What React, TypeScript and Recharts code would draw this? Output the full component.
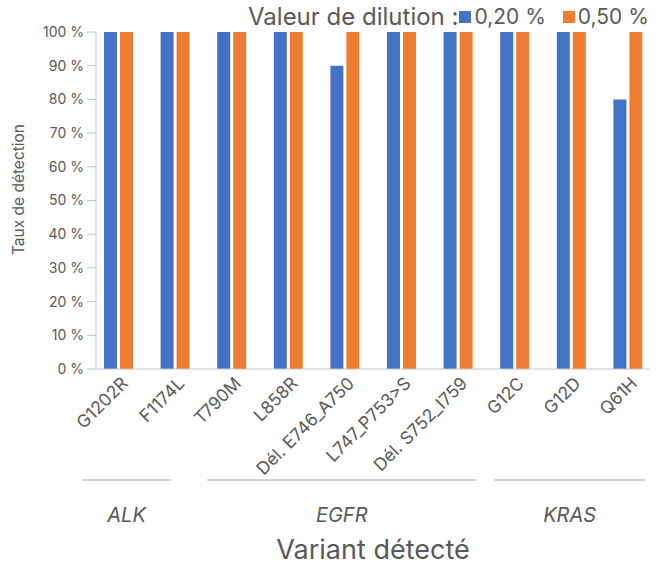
import React from 'react';
import { BarChart, Bar, XAxis, YAxis } from 'recharts';

const variants = ['G1202R', 'F1174L', 'T790M', 'L858R', 'Dél. E746_A750', 'L747_P753>S', 'Dél. S752_I759', 'G12C', 'G12D', 'Q61H'];
const dilution020 = [100, 100, 100, 100, 90, 100, 100, 100, 100, 80];
const dilution050 = [100, 100, 100, 100, 100, 100, 100, 100, 100, 100];
const yTicks = [0, 10, 20, 30, 40, 50, 60, 70, 80, 90, 100];
const groups = [
  { name: 'ALK', start: 0, end: 1 },
  { name: 'EGFR', start: 2, end: 6 },
  { name: 'KRAS', start: 7, end: 9 },
];
const seriesNames = ['0,20 %', '0,50 %'];
const legendTitle = 'Valeur de dilution :';
const yTitle = 'Taux de détection';
const xTitle = 'Variant détecté';

const data = variants.map((v, i) => ({ name: v, a: dilution020[i], b: dilution050[i] }));

const W = 667;
const H = 566;
const PLOT_LEFT = 96;
const PLOT_RIGHT = 650;
const PLOT_TOP = 32;
const PLOT_BOTTOM = 369;
const PAD = -6;
const BAND = (PLOT_RIGHT - PLOT_LEFT - 2 * PAD) / variants.length;
const TEXT = '#595959';
const LINE = '#C4C4C4';
const FONT = 'Inter, "Noto Sans", sans-serif';
const COLORS = ['#4472C4', '#ED7D31'];
// line start/end insets (px) for each group bracket, style only
const GROUP_INSETS = [[-8, -32], [4, -10], [8, -11]];

const XTick = (props: any) => {
  const { x, payload, index } = props;
  const tx = x + 6;
  const ty = PLOT_BOTTOM + 11;
  const gi = groups.findIndex((gr) => gr.start === index);
  let groupEl = null;
  if (gi >= 0) {
    const g = groups[gi];
    const x1 = x - BAND / 2 + GROUP_INSETS[gi][0];
    const x2 = x + (g.end - g.start) * BAND + BAND / 2 + GROUP_INSETS[gi][1];
    groupEl = (
      <g>
        <line x1={x1} x2={x2} y1={480} y2={480} stroke={LINE} strokeWidth={1.5} />
        <text x={(x1 + x2) / 2} y={522} textAnchor="middle" fontSize={20} fontStyle="italic" fill={TEXT} fontFamily={FONT}>
          {g.name}
        </text>
      </g>
    );
  }
  return (
    <g>
      <text
        x={tx}
        y={ty}
        transform={`rotate(-45, ${tx}, ${ty})`}
        textAnchor="end"
        dominantBaseline="central"
        fontSize={17.5}
        fill={TEXT}
        fontFamily={FONT}
      >
        {payload.value}
      </text>
      {groupEl}
    </g>
  );
};

export default function App() {
  return (
    <div style={{ position: 'absolute', left: 0, top: 0, width: W, height: H, background: '#fff' }}>
      <BarChart
        width={W}
        height={H}
        data={data}
        margin={{ top: PLOT_TOP, right: W - PLOT_RIGHT, left: 0, bottom: 0 }}
        barSize={13}
        barGap={3}
        style={{ fontFamily: FONT }}
      >
        <XAxis
          dataKey="name"
          type="category"
          height={H - PLOT_BOTTOM}
          padding={{ left: PAD, right: PAD }}
          interval={0}
          tickLine={false}
          axisLine={{ stroke: LINE }}
          tick={<XTick />}
          label={{ value: xTitle, position: 'insideBottom', offset: 7, fontSize: 27, fill: TEXT, fontFamily: FONT, dx: 0 }}
        />
        <XAxis xAxisId="top" orientation="top" dataKey="name" height={0} tick={false} tickLine={false} axisLine={{ stroke: LINE }} />
        <YAxis
          width={PLOT_LEFT}
          domain={[0, 100]}
          ticks={yTicks}
          interval={0}
          tickFormatter={(v: number) => `${v} %`}
          tick={{ fontSize: 14, fill: TEXT, fontFamily: FONT }}
          tickSize={9}
          tickMargin={3}
          tickLine={{ stroke: LINE }}
          axisLine={{ stroke: LINE }}
          label={{ value: yTitle, angle: -90, position: 'insideLeft', offset: 18, dy: -11, fontSize: 15.5, fill: TEXT, fontFamily: FONT, style: { textAnchor: 'middle' } }}
        />
        <YAxis yAxisId="right" orientation="right" width={0} tick={false} tickLine={false} axisLine={{ stroke: LINE }} domain={[0, 100]} />
        <Bar dataKey="a" name={seriesNames[0]} fill={COLORS[0]} isAnimationActive={false} />
        <Bar dataKey="b" name={seriesNames[1]} fill={COLORS[1]} isAnimationActive={false} />
      </BarChart>
      <div
        style={{
          position: 'absolute',
          left: 248,
          top: 2,
          display: 'flex',
          alignItems: 'center',
          fontFamily: FONT,
          color: TEXT,
          whiteSpace: 'nowrap',
          lineHeight: '30px',
        }}
      >
        <span style={{ fontSize: 24, marginRight: 1 }}>{legendTitle}</span>
        {seriesNames.map((n, i) => (
          <span key={n} style={{ display: 'flex', alignItems: 'center', marginRight: i === 0 ? 17 : 0 }}>
            <span style={{ display: 'inline-block', width: 12, height: 12, background: COLORS[i], marginRight: 3 }} />
            <span style={{ fontSize: 21 }}>{n}</span>
          </span>
        ))}
      </div>
    </div>
  );
}
